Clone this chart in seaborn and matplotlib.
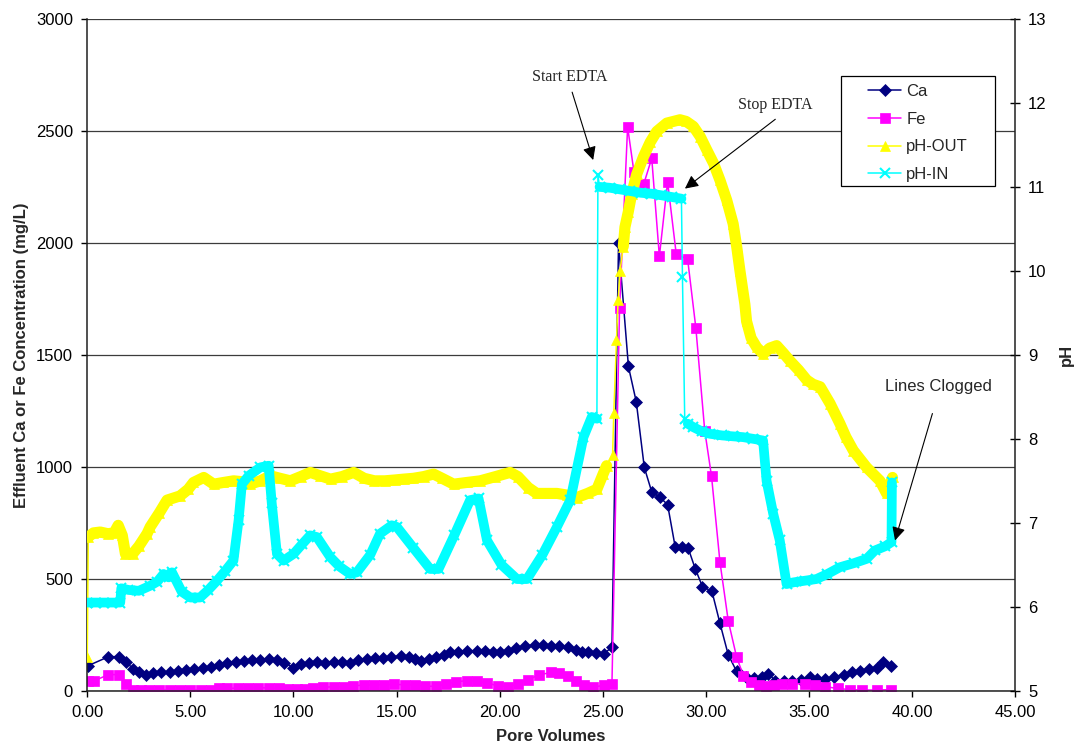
import numpy as np
import pandas as pd
import matplotlib
matplotlib.use('Agg')
import matplotlib.pyplot as plt
from matplotlib.patches import Rectangle
from matplotlib.ticker import FormatStrFormatter, MultipleLocator
import seaborn as sns

# Ca effluent concentration (mg/L) vs pore volumes
ca_pv = [0.05, 1.03, 1.53, 1.90, 2.20, 2.50, 2.83, 3.20, 3.60, 4.00,
         4.40, 4.80, 5.20, 5.60, 6.00, 6.40, 6.80, 7.20, 7.60, 8.00,
         8.40, 8.80, 9.20, 9.55, 10.00, 10.35, 10.75, 11.15, 11.55, 11.95,
         12.35, 12.75, 13.15, 13.55, 13.95, 14.35, 14.75, 15.20, 15.60, 15.90,
         16.20, 16.60, 16.90, 17.30, 17.60, 18.00, 18.40, 18.90, 19.30, 19.70,
         20.00, 20.40, 20.80, 21.25, 21.70, 22.10, 22.50, 22.90, 23.30, 23.70,
         24.00, 24.30, 24.70, 25.05, 25.45, 25.77, 26.25, 26.63, 27.02, 27.38,
         27.79, 28.15, 28.52, 28.85, 29.15, 29.49, 29.84, 30.30, 30.69, 31.09,
         31.50, 31.93, 32.33, 32.73, 33.03, 33.37, 33.80, 34.20, 34.60, 35.05,
         35.40, 35.80, 36.20, 36.70, 37.10, 37.50, 37.90, 38.30, 38.60, 39.00]
ca_conc = [112, 152, 152, 130, 98, 85, 72, 80, 82, 85,
           88, 92, 98, 100, 105, 115, 122, 128, 132, 135,
           138, 140, 136, 125, 103, 118, 122, 128, 125, 128,
           130, 125, 135, 140, 145, 148, 150, 156, 150, 140,
           134, 140, 150, 160, 171, 175, 178, 179, 176, 172,
           171, 178, 190, 201, 203, 204, 201, 198, 194, 182,
           175, 171, 168, 165, 194, 1998, 1448, 1290, 997, 888,
           863, 831, 641, 641, 636, 545, 465, 444, 301, 161,
           86, 60, 58, 60, 76, 45, 42, 45, 50, 60,
           52, 52, 62, 72, 82, 89, 95, 100, 127, 109]

# Fe effluent concentration (mg/L)
fe_pv = [0.05, 0.35, 1.03, 1.53, 1.90, 2.20, 2.60, 3.00, 3.50, 4.00,
         4.50, 5.00, 5.50, 6.00, 6.40, 6.80, 7.30, 7.80, 8.30, 8.80,
         9.30, 9.75, 10.15, 10.55, 10.95, 11.45, 11.95, 12.45, 12.90, 13.40,
         13.90, 14.40, 14.90, 15.40, 15.90, 16.40, 16.90, 17.40, 17.90, 18.40,
         18.90, 19.40, 19.90, 20.40, 20.90, 21.40, 21.90, 22.50, 22.90, 23.30,
         23.70, 24.10, 24.55, 25.05, 25.45, 25.82, 26.21, 26.52, 27.00, 27.38,
         27.75, 28.15, 28.57, 29.12, 29.52, 29.95, 30.28, 30.69, 31.09, 31.50,
         31.83, 32.20, 32.60, 32.90, 33.30, 33.70, 34.20, 34.80, 35.30, 35.80,
         36.40, 37.00, 37.60, 38.30, 39.00]
fe_conc = [45, 45, 72, 72, 30, 5, 3, 3, 3, 3,
           3, 3, 3, 5, 10, 10, 12, 14, 14, 12,
           10, 8, 6, 8, 12, 15, 18, 18, 22, 25,
           26, 27, 28, 27, 25, 20, 20, 30, 40, 45,
           42, 35, 22, 18, 30, 50, 70, 82, 78, 67,
           45, 25, 15, 25, 30, 1710, 2518, 2315, 2265, 2378,
           1940, 2272, 1949, 1928, 1620, 1162, 958, 574, 313, 149,
           67, 37, 25, 20, 25, 30, 32, 30, 25, 18,
           10, 5, 3, 3, 5]

# effluent pH
ph_out_pv = [0.00, 0.05, 0.30, 0.63, 1.00, 1.30, 1.50, 1.70, 1.85, 2.20,
             2.50, 2.90, 3.05, 3.50, 3.87, 4.50, 4.90, 5.15, 5.65, 6.13,
             6.60, 7.10, 7.50, 7.90, 8.40, 8.88, 9.35, 9.85, 10.35, 10.82,
             11.30, 11.80, 12.35, 12.92, 13.43, 13.93, 14.43, 14.92, 15.34, 15.82,
             16.31, 16.80, 17.21, 17.77, 18.40, 19.06, 19.80, 20.51, 20.89, 21.39,
             21.80, 22.28, 22.78, 23.28, 23.74, 24.27, 24.72, 25.02, 25.19, 25.48,
             25.54, 25.67, 25.75, 25.84, 26.00, 26.08, 26.24, 26.41, 26.65, 26.98,
             27.30, 27.62, 28.11, 28.75, 29.05, 29.40, 29.73, 30.05, 30.38, 30.69,
             31.02, 31.33, 31.50, 31.66, 31.90, 31.98, 32.20, 32.47, 32.79, 33.10,
             33.44, 33.77, 34.08, 34.50, 34.90, 35.20, 35.55, 36.03, 36.51, 36.80,
             37.16, 37.80, 38.45, 38.77, 39.06]
ph_out = [5.40, 6.83, 6.88, 6.89, 6.87, 6.88, 6.97, 6.85, 6.63, 6.63,
          6.72, 6.87, 6.95, 7.12, 7.27, 7.32, 7.40, 7.48, 7.54, 7.46,
          7.48, 7.50, 7.49, 7.46, 7.50, 7.56, 7.53, 7.50, 7.55, 7.60,
          7.56, 7.52, 7.55, 7.60, 7.53, 7.50, 7.50, 7.51, 7.52, 7.53,
          7.55, 7.58, 7.53, 7.46, 7.48, 7.50, 7.55, 7.60, 7.55, 7.42,
          7.35, 7.35, 7.35, 7.33, 7.30, 7.35, 7.40, 7.58, 7.68, 7.81,
          8.31, 9.18, 9.65, 10.00, 10.29, 10.52, 10.70, 10.92, 11.15, 11.36,
          11.53, 11.66, 11.76, 11.80, 11.78, 11.72, 11.60, 11.44, 11.28, 11.08,
          10.84, 10.56, 10.29, 10.00, 9.60, 9.40, 9.20, 9.09, 9.01, 9.08,
          9.11, 9.02, 8.93, 8.82, 8.70, 8.65, 8.62, 8.42, 8.18, 8.02,
          7.86, 7.66, 7.50, 7.35, 7.54]

# influent pH
ph_in_pv = [0.00, 0.40, 0.80, 1.20, 1.60, 1.65, 2.00, 2.50, 3.05, 3.40,
            3.70, 3.95, 4.11, 4.58, 5.00, 5.47, 5.87, 6.29, 6.67, 7.09,
            7.34, 7.50, 7.83, 8.39, 8.80, 8.95, 9.20, 9.52, 10.01, 10.44,
            10.81, 11.14, 11.79, 12.23, 12.75, 13.08, 13.73, 14.20, 14.77, 15.02,
            15.82, 16.63, 17.04, 17.80, 18.57, 18.98, 19.39, 20.09, 20.84, 21.33,
            22.08, 22.78, 23.43, 24.07, 24.47, 24.72, 24.77, 24.85, 25.35, 25.85,
            26.35, 26.85, 27.35, 27.85, 28.35, 28.82, 28.87, 28.98, 29.13, 29.39,
            29.80, 30.20, 30.80, 31.30, 31.81, 32.30, 32.78, 32.95, 33.27, 33.59,
            33.92, 34.24, 34.80, 35.37, 35.90, 36.50, 37.20, 37.80, 38.20, 38.70,
            39.01, 39.03]
ph_in = [6.05, 6.05, 6.05, 6.05, 6.05, 6.22, 6.20, 6.19, 6.25, 6.30,
         6.39, 6.35, 6.41, 6.18, 6.11, 6.11, 6.20, 6.31, 6.42, 6.55,
         7.03, 7.46, 7.56, 7.66, 7.68, 7.23, 6.63, 6.55, 6.63, 6.75,
         6.85, 6.83, 6.59, 6.48, 6.39, 6.41, 6.62, 6.87, 6.97, 6.95,
         6.70, 6.45, 6.45, 6.85, 7.27, 7.29, 6.79, 6.50, 6.33, 6.33,
         6.62, 6.95, 7.27, 8.02, 8.26, 8.24, 11.14, 11.00, 10.99, 10.97,
         10.95, 10.93, 10.92, 10.90, 10.88, 10.86, 9.93, 8.24, 8.18, 8.14,
         8.09, 8.06, 8.04, 8.03, 8.02, 8.00, 7.98, 7.50, 7.11, 6.79,
         6.27, 6.29, 6.31, 6.33, 6.39, 6.47, 6.52, 6.57, 6.67, 6.72,
         6.77, 7.48]

# stretches where the logger sampled so densely the markers merge into a band
ph_out_dense = [(0.05, 25.19), (26.00, 39.06)]
ph_in_dense = [(0.00, 24.72), (24.85, 28.82), (29.13, 39.03)]

CA_COLOR = '#000080'
FE_COLOR = '#FF00FF'
OUT_COLOR = '#FFFF00'
IN_COLOR = '#00FFFF'


def draw_series(ax, x, y, color, marker, ms, label, mew=0.5):
    """Thin line with a marker at every reading."""
    sns.lineplot(x=x, y=y, ax=ax, sort=False, estimator=None, color=color,
                 linewidth=1.1, marker=marker, markersize=ms,
                 markeredgecolor=color, markeredgewidth=mew,
                 label=label, legend=False)


def draw_band(ax, x, y, ranges, color, width):
    """Thick band over the densely sampled stretches."""
    df = pd.DataFrame({'pv': x, 'val': y})
    for lo, hi in ranges:
        part = df[(df.pv >= lo) & (df.pv <= hi)]
        sns.lineplot(data=part, x='pv', y='val', ax=ax, sort=False,
                     estimator=None, color=color, linewidth=width,
                     solid_capstyle='round', solid_joinstyle='round',
                     label='_nolegend_', legend=False)


sns.set_style("ticks")
plt.rcParams['font.family'] = ['Liberation Sans', 'DejaVu Sans']
plt.rcParams['font.size'] = 12

fig = plt.figure(figsize=(10.76, 7.53), dpi=100)
ax = fig.add_axes([0.0811, 0.0827, 0.8622, 0.8921])
ax2 = ax.twinx()

# concentrations on the left axis
draw_series(ax, ca_pv, ca_conc, CA_COLOR, 'D', 6, 'Ca')
draw_series(ax, fe_pv, fe_conc, FE_COLOR, 's', 6.5, 'Fe')

# pH on the right axis
draw_band(ax2, ph_out_pv, ph_out, ph_out_dense, OUT_COLOR, 8)
draw_series(ax2, ph_out_pv, ph_out, OUT_COLOR, '^', 7.5, 'pH-OUT')
draw_band(ax2, ph_in_pv, ph_in, ph_in_dense, IN_COLOR, 7.0)
draw_series(ax2, ph_in_pv, ph_in, IN_COLOR, 'x', 7, 'pH-IN', mew=1.5)

ax.set_xlim(0, 45)
ax.set_ylim(0, 3000)
ax2.set_ylim(5, 13)
ax.xaxis.set_major_locator(MultipleLocator(5))
ax.xaxis.set_major_formatter(FormatStrFormatter('%.2f'))
ax.yaxis.set_major_locator(MultipleLocator(500))
ax2.yaxis.set_major_locator(MultipleLocator(1))

ax.grid(axis='y', color='#3c3c3c', linewidth=0.9)
ax.grid(axis='x', visible=False)
ax.set_axisbelow(True)

for side in ['top', 'right']:
    ax.spines[side].set_visible(False)
for side in ['top', 'left', 'bottom']:
    ax2.spines[side].set_visible(False)
for sp in [ax.spines['left'], ax.spines['bottom'], ax2.spines['right']]:
    sp.set_color('#202020')
    sp.set_linewidth(1.1)

ax.tick_params(axis='x', direction='out', length=4.5, width=1, pad=5.5,
               labelsize=12, colors='black')
ax.tick_params(axis='y', direction='out', length=4.3, width=1, pad=6,
               labelsize=12, colors='black')
ax2.tick_params(axis='y', direction='inout', length=7, width=1, pad=6,
                labelsize=12, colors='black')

ax.set_xlabel('Pore Volumes', fontweight='bold', fontsize=12, labelpad=7)
ax.set_ylabel('Effluent Ca or Fe Concentration (mg/L)', fontweight='bold',
              fontsize=12, labelpad=5)
ax2.set_ylabel('pH', fontweight='bold', fontsize=12, labelpad=9)

# annotations
arrow = dict(arrowstyle='-|>', color='black', lw=0.8, mutation_scale=20)
ax2.annotate('Start EDTA', xy=(24.54, 11.32), xytext=(23.41, 12.31),
             ha='center', va='center', fontsize=11.5, family='Liberation Serif',
             arrowprops=dict(arrow, relpos=(0.5, 0), shrinkA=3, shrinkB=0))
ax2.annotate('Stop EDTA', xy=(28.99, 10.98), xytext=(33.38, 11.97),
             ha='center', va='center', fontsize=11.5, family='Liberation Serif',
             arrowprops=dict(arrow, relpos=(0.6, 0), shrinkA=3, shrinkB=0))
ax2.annotate('Lines Clogged', xy=(39.18, 6.79), xytext=(41.27, 8.62),
             ha='center', va='center', fontsize=12,
             arrowprops=dict(arrow, relpos=(0.5, 0), shrinkA=12, shrinkB=0))

# legend box (white, hides the gridline behind it)
fig.add_artist(Rectangle((0.7816, 0.7530), 0.1431, 0.1461,
                         transform=fig.transFigure, facecolor='white',
                         edgecolor='black', linewidth=0.9, zorder=4))
h1, l1 = ax.get_legend_handles_labels()
h2, l2 = ax2.get_legend_handles_labels()
fig.legend(h1 + h2, l1 + l2, loc='upper left', bbox_to_anchor=(0.8067, 0.8884),
           frameon=False, borderaxespad=0, borderpad=0, handlelength=2.0,
           handletextpad=0.3, labelspacing=0.76, fontsize=12, numpoints=1)

fig.savefig('out.png', dpi=100)
